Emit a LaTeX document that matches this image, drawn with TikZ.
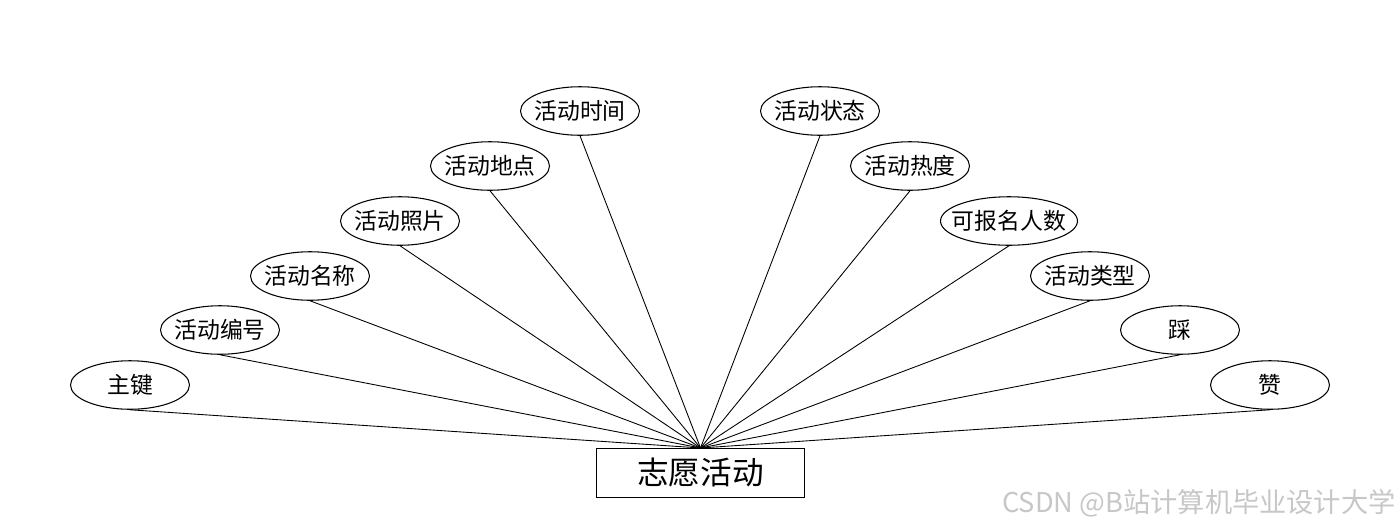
\documentclass[tikz,border=0pt]{standalone}
\usepackage{fontspec}
\setmainfont{Noto Sans CJK SC}
\newfontfamily\cjk{Noto Sans CJK SC}
\usetikzlibrary{shapes.geometric}
\newcommand{\zw}[1]{\makebox[0pt]{#1}}
\tikzset{
  attr/.style={ellipse, draw, line width=0.6pt, minimum width=2.38cm, minimum height=0.97cm, inner sep=0pt, font=\cjk\fontsize{13}{15}\selectfont},
  entity/.style={rectangle, draw, line width=0.6pt, minimum width=4.16cm, minimum height=0.98cm, inner sep=0pt, font=\cjk\fontsize{18}{20}\selectfont},
  link/.style={line width=0.5pt}
}
\begin{document}
\begin{tikzpicture}[x=0.02cm,y=-0.02cm]
\useasboundingbox (0,0) rectangle (1400,528);
\node[entity] (e) at (700.5,473) {志愿活动};
\node[attr] (a1) at (130,385) {\zw{主键}};
\node[attr] (a2) at (220,330) {\zw{活动编号}};
\node[attr] (a3) at (310,276) {\zw{活动名称}};
\node[attr] (a4) at (400,221) {\zw{活动照片}};
\node[attr] (a5) at (490,166) {\zw{活动地点}};
\node[attr] (a6) at (580,111) {\zw{活动时间}};
\node[attr] (b1) at (820,111) {\zw{活动状态}};
\node[attr] (b2) at (910,166) {\zw{活动热度}};
\node[attr, minimum width=2.74cm] (b3) at (1009,221) {\zw{可报名人数}};
\node[attr] (b4) at (1090,276) {\zw{活动类型}};
\node[attr] (b5) at (1180,330) {\zw{踩}};
\node[attr] (b6) at (1270,385) {\zw{赞}};
\foreach \n in {a1,a2,a3,a4,a5,a6,b1,b2,b3,b4,b5,b6}
  \draw[link] (\n.south) -- (e.north);
\node[anchor=base east, inner sep=0pt, text=black!22, font=\cjk\fontsize{15.5}{17}\selectfont] (wm) at (1396,512) {CSDN @B站计算机毕业设计大学};
\end{tikzpicture}
\end{document}
